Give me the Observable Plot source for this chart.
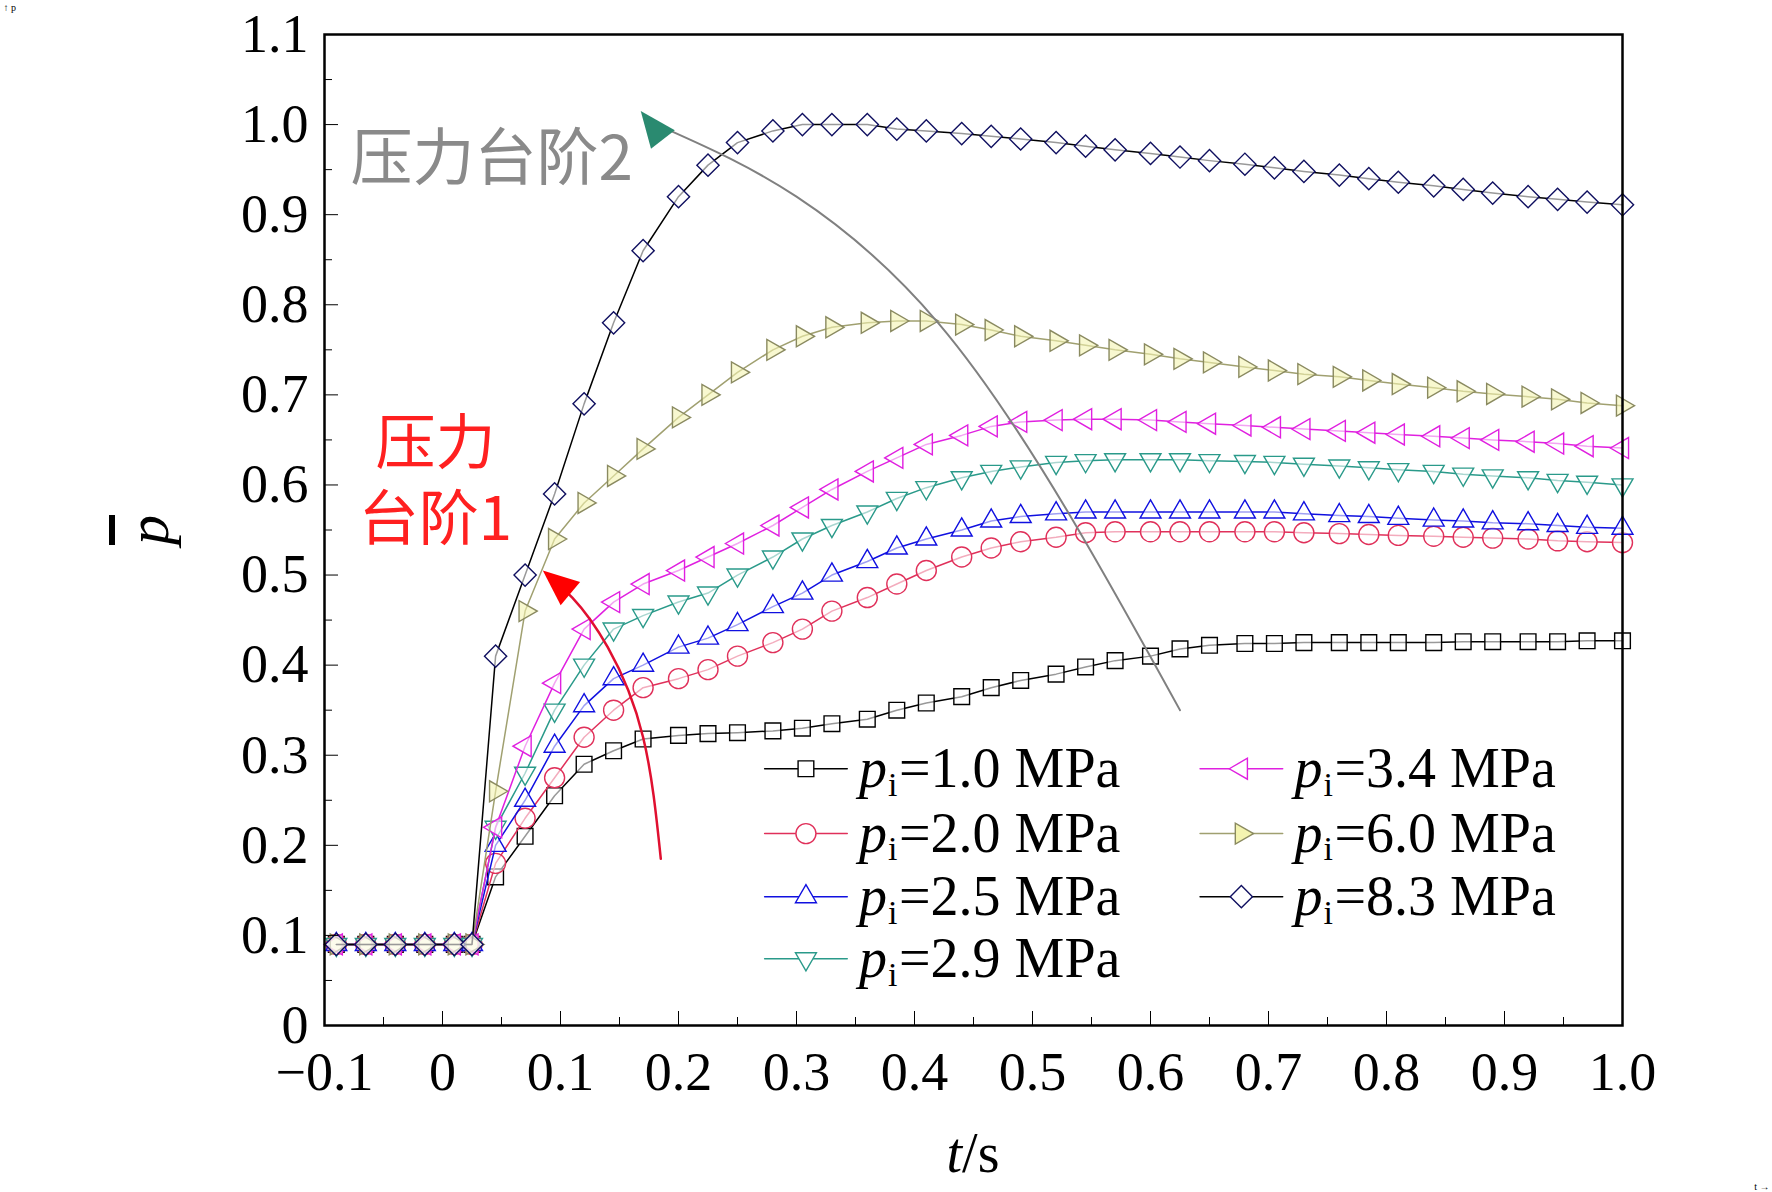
<!DOCTYPE html>
<html><head><meta charset="utf-8">
<script src="https://cdn.jsdelivr.net/npm/d3@7"></script>
<script src="https://cdn.jsdelivr.net/npm/@observablehq/plot@0.6"></script>
<style>body{margin:0;background:#fff}</style>
</head><body><div id="c"></div>
<script>
const T = [-0.09,-0.065,-0.04,-0.015,0.01,0.025,0.045,0.07,0.095,0.12,0.145,0.17,0.2,0.225,0.25,0.28,0.305,0.33,0.36,0.385,0.41,0.44,0.465,0.49,0.52,0.545,0.57,0.6,0.625,0.65,0.68,0.705,0.73,0.76,0.785,0.81,0.84,0.865,0.89,0.92,0.945,0.97,1.0];
const pre = [0.09,0.09,0.09,0.09,0.09,0.09];
const s10 = pre.concat([0.165,0.21,0.255,0.29,0.305,0.318,0.322,0.324,0.325,0.327,0.33,0.335,0.34,0.35,0.358,0.365,0.375,0.383,0.39,0.398,0.405,0.41,0.418,0.422,0.424,0.424,0.425,0.425,0.425,0.425,0.425,0.426,0.426,0.426,0.426,0.427,0.427]);
const s20 = pre.concat([0.18,0.23,0.275,0.32,0.35,0.375,0.385,0.395,0.41,0.425,0.44,0.46,0.475,0.49,0.505,0.52,0.53,0.537,0.542,0.547,0.548,0.548,0.548,0.548,0.548,0.548,0.547,0.546,0.545,0.544,0.543,0.542,0.541,0.54,0.538,0.537,0.536]);
const s25 = pre.concat([0.2,0.25,0.31,0.355,0.385,0.4,0.42,0.43,0.445,0.465,0.48,0.5,0.515,0.53,0.54,0.55,0.56,0.565,0.568,0.57,0.57,0.57,0.57,0.57,0.57,0.57,0.568,0.566,0.565,0.563,0.561,0.56,0.558,0.557,0.555,0.553,0.552]);
const s29 = pre.concat([0.22,0.28,0.35,0.4,0.44,0.455,0.47,0.48,0.5,0.52,0.54,0.555,0.57,0.585,0.597,0.608,0.615,0.62,0.625,0.627,0.628,0.628,0.628,0.627,0.626,0.625,0.623,0.621,0.619,0.617,0.615,0.612,0.61,0.608,0.605,0.603,0.6]);
const s34 = pre.concat([0.22,0.31,0.38,0.44,0.47,0.49,0.505,0.52,0.535,0.555,0.575,0.595,0.615,0.63,0.645,0.655,0.665,0.67,0.672,0.673,0.673,0.672,0.67,0.668,0.666,0.664,0.662,0.66,0.658,0.656,0.654,0.652,0.65,0.648,0.646,0.643,0.641]);
const s60 = pre.concat([0.26,0.46,0.54,0.58,0.61,0.64,0.675,0.7,0.725,0.75,0.765,0.775,0.78,0.782,0.782,0.778,0.772,0.765,0.76,0.755,0.75,0.745,0.74,0.736,0.731,0.727,0.723,0.72,0.716,0.712,0.708,0.704,0.701,0.698,0.695,0.691,0.688]);
const s83 = pre.concat([0.41,0.5,0.59,0.69,0.78,0.86,0.92,0.955,0.98,0.993,1.0,1.0,1.0,0.995,0.993,0.99,0.987,0.984,0.98,0.976,0.972,0.968,0.964,0.96,0.956,0.952,0.948,0.944,0.94,0.936,0.932,0.928,0.924,0.92,0.917,0.914,0.911]);

const names = ["1.0","2.0","2.5","2.9","3.4","6.0","8.3"];
const values = [s10,s20,s25,s29,s34,s60,s83];
const lineColors = ["#000000","#e0305a","#1010e0","#2a9a8a","#e020e0","#a0a070","#000000"];
const markColors = ["#000000","#e0305a","#1010e0","#2a9a8a","#e020e0","#8a8a60","#101060"];
const markFills = ["white","white","white","white","white","#f4f4b0","white"];
const symbols = ["square2","circle","triangle2","triangle2","triangle2","triangle2","square2"];
const rotates = [0,0,0,180,-90,90,45];
const legendCol = [0,0,0,0,1,1,1];
const legendRow = [0,1,2,3,0,1,2];
const legendColT = [0.308,0.677];
const legendRowP = [0.285,0.213,0.143,0.074];

const arrow2Curve = [[0.625,0.35],[0.53,0.57],[0.42,0.78],[0.30,0.92],[0.19,0.995]];
const arrow2Head = [0.168,1.015];
const arrow1Curve = [[0.185,0.185],[0.17,0.32],[0.14,0.42],[0.11,0.475],[0.095,0.49]];
const arrow1Head = [0.085,0.505];

const rows = [];
values.forEach((v,i)=>v.forEach((p,j)=>rows.push({s:i,t:T[j],p})));
const font = "Liberation Serif, Times New Roman, serif";
const fmt = d => Math.abs(d)<1e-9 ? "0" : (d<0?"\u2212":"")+Math.abs(d).toFixed(1);
const xTicks = d3.range(-0.1,1.0001,0.1);
const yTicks = d3.range(0,1.1001,0.1);
const headShape = {draw(ctx,l){ ctx.moveTo(0,0); ctx.lineTo(-l*0.42,l); ctx.lineTo(l*0.42,l); ctx.closePath(); }};

const marks = [];
for (let i=0;i<7;i++){
  const d = rows.filter(r=>r.s===i);
  marks.push(Plot.line(d,{x:"t",y:"p",stroke:lineColors[i],strokeWidth:1.5}));
  marks.push(Plot.dot(d,{x:"t",y:"p",symbol:symbols[i],rotate:rotates[i],r:10,stroke:markColors[i],fill:markFills[i],fillOpacity:0.6,strokeWidth:1.4}));
}
// annotations
marks.push(Plot.line(arrow2Curve,{x:d=>d[0],y:d=>d[1],curve:"natural",stroke:"#808080",strokeWidth:2}));
marks.push(Plot.vector([arrow2Head],{x:d=>d[0],y:d=>d[1],shape:headShape,length:36,rotate:-38,anchor:"start",fill:"#2a8a70",stroke:"none"}));
marks.push(Plot.line(arrow1Curve,{x:d=>d[0],y:d=>d[1],curve:"natural",stroke:"#e01030",strokeWidth:2.5}));
marks.push(Plot.vector([arrow1Head],{x:d=>d[0],y:d=>d[1],shape:headShape,length:36,rotate:-50,anchor:"start",fill:"#ff0000",stroke:"none"}));
marks.push(Plot.text(["压力台阶2"],{x:-0.078,y:0.96,text:d=>d,textAnchor:"start",fontSize:62,fill:"#8a8a8a",fontFamily:"Noto Sans CJK SC, serif"}));
marks.push(Plot.text(["压力","台阶1"],{x:-0.006,y:(d,i)=>[0.645,0.56][i],text:d=>d,fontSize:60,fill:"#ff2020",fontFamily:"Noto Sans CJK SC, serif"}));
// legend
for (let i=0;i<7;i++){
  const cx = legendColT[legendCol[i]], cy = legendRowP[legendRow[i]];
  marks.push(Plot.line([[cx-0.035,cy],[cx+0.035,cy]],{x:d=>d[0],y:d=>d[1],stroke:lineColors[i],strokeWidth:1.5}));
  marks.push(Plot.dot([[cx,cy]],{x:d=>d[0],y:d=>d[1],symbol:symbols[i],rotate:rotates[i],r:10,stroke:markColors[i],fill:markFills[i],strokeWidth:1.4}));
  marks.push(Plot.text(["p"],{x:cx+0.045,y:cy,text:d=>d,textAnchor:"start",fontSize:56,fontStyle:"italic",fontFamily:font,fill:"black"}));
  marks.push(Plot.text(["i"],{x:cx+0.045,y:cy,dx:29,dy:16,text:d=>d,textAnchor:"start",fontSize:34,fontFamily:font,fill:"black"}));
  marks.push(Plot.text(["="+names[i]+" MPa"],{x:cx+0.045,y:cy,dx:40,text:d=>d,textAnchor:"start",fontSize:56,fontFamily:font,fill:"black"}));
}
marks.push(Plot.frame({stroke:"black",strokeWidth:2.5}));
marks.push(Plot.axisX({ticks:xTicks,tickFormat:fmt,tickSize:-14,tickPadding:40,fontSize:54,fontFamily:font,label:null}));
marks.push(Plot.axisX({ticks:d3.range(-0.05,1.0,0.1),tickFormat:()=>"",tickSize:-8}));
marks.push(Plot.axisY({ticks:yTicks,tickFormat:fmt,tickSize:-14,tickPadding:30,fontSize:54,fontFamily:font,label:null}));
marks.push(Plot.axisY({ticks:d3.range(0.05,1.1,0.1),tickFormat:()=>"",tickSize:-8}));

const chart = Plot.plot({
  width:1772,height:1192,marginLeft:324,marginRight:150,marginTop:34,marginBottom:167,
  x:{domain:[-0.1,1.0]}, y:{domain:[0,1.1]},
  style:{fontFamily:font,color:"black",background:"white"},
  marks
});
document.getElementById("c").appendChild(chart);
const svg = d3.select(chart);
svg.append("text").attr("x",973).attr("y",1172).attr("text-anchor","middle").attr("font-size",56).attr("font-family",font)
  .html('<tspan font-style="italic">t</tspan>/s');
svg.append("text").attr("transform","translate(168,530) rotate(-90)").attr("text-anchor","middle").attr("font-size",60).attr("font-family",font)
  .attr("font-style","italic").attr("text-decoration","overline").text("p");
</script></body></html>
